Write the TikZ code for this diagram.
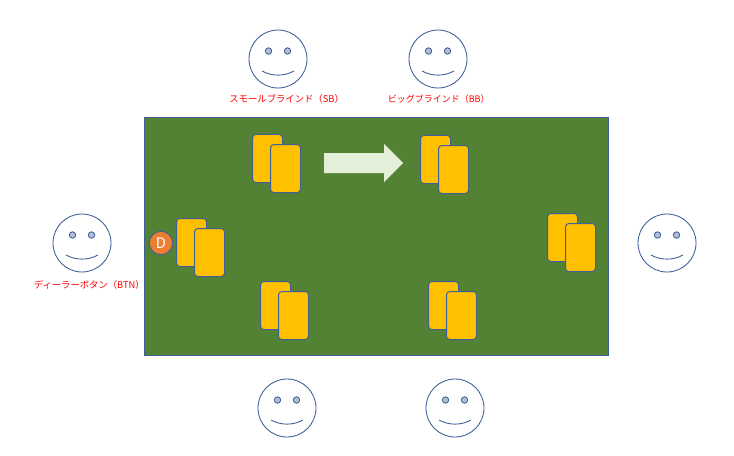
\documentclass[tikz,border=0pt]{standalone}
\usepackage{fontspec}
\usepackage{tikz}
\setmainfont{Noto Sans CJK JP}
\usetikzlibrary{positioning}
\definecolor{linec}{HTML}{3E5F98}
\definecolor{tablec}{HTML}{548235}
\definecolor{cardc}{HTML}{FFC000}
\definecolor{buttonc}{HTML}{ED7D31}
\definecolor{arrowc}{HTML}{E2F0D9}
\definecolor{eyec}{HTML}{B4BFD3}
\tikzset{
    face/.style={draw=linec, circle, fill=white, line width=0.65pt, minimum size=43.5pt, inner sep=0pt},
    eye/.style={draw=linec, circle, fill=eyec, line width=0.65pt, minimum size=4.8pt, inner sep=0pt},
    card/.style={draw=linec, fill=cardc, rounded corners=2.5pt, line width=0.75pt, minimum width=22.5pt, minimum height=36pt, inner sep=0pt},
    seat/.style={text=red, font=\fontsize{7pt}{8pt}\selectfont, inner sep=0pt}
}

\begin{document}
\begin{tikzpicture}[x=0.75pt, y=-0.75pt]
\useasboundingbox (0,0) rectangle (734,456);
\draw[draw=linec, fill=tablec, line width=0.75pt] (144.5,118) rectangle (608.5,355.5);
\foreach \x/\y/\fname in {278/59/sb, 438/59/bb, 82/243/btn, 667/243/co, 287/408/hj, 455/408/utg} {
    \node[face] (\fname) at (\x,\y) {};
    \node[eye] (\fname eyel) at (\x-9.5,\y-8) {};
    \node[eye] (\fname eyer) at (\x+9.5,\y-8) {};
    \draw[draw=linec, line width=0.65pt] (\x-16,\y+12) .. controls (\x-6,\y+17.5) and (\x+6,\y+17.5) .. (\x+16,\y+12);
}
\node[seat, below=4.5pt of sb, xshift=6.5pt] (sblabel) {スモールブラインド（SB）};
\node[seat, below=4.5pt of bb, font=\fontsize{6.75pt}{8pt}\selectfont, xshift=0.5pt] (bblabel) {ビッグブラインド（BB）};
\node[seat, below=6pt of btn, xshift=5.5pt] (btnlabel) {ディーラーボタン（BTN）};
\foreach \x/\y/\cname in {252.5/134.5/sb, 420.5/135.5/bb, 176.5/218.5/btn, 547.5/213.5/co, 260.5/281.5/hj, 428.5/281.5/utg} {
    \node[card] (\cname back) at (\x+15,\y+24) {};
    \node[card] (\cname front) at (\x+33,\y+34) {};
}
\node[draw=linec, circle, fill=buttonc, text=white, line width=0.65pt, minimum size=17.5pt, inner sep=0pt, font=\fontsize{11pt}{12pt}\selectfont] (button) at (161,243) {D};
\fill[arrowc] (324,153) -- (384,153) -- (384,144) -- (403,163) -- (384,182) -- (384,173) -- (324,173) -- cycle;
\end{tikzpicture}
\end{document}
